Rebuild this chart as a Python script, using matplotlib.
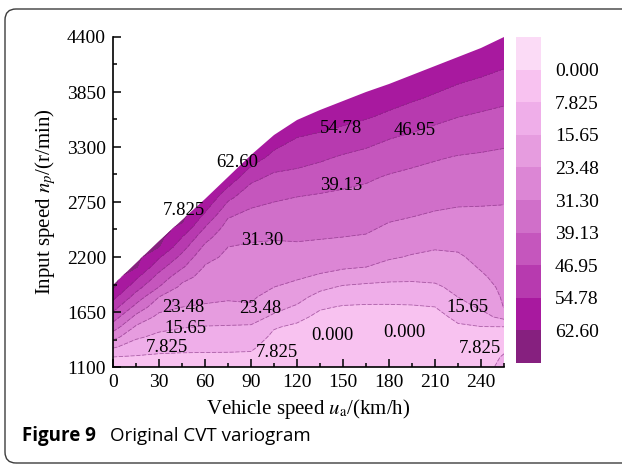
import matplotlib

matplotlib.use("Agg")

import matplotlib.pyplot as plt
import numpy as np
from matplotlib.colors import BoundaryNorm, ListedColormap
from matplotlib.patches import FancyBboxPatch, Polygon
from matplotlib.ticker import MultipleLocator
from matplotlib.transforms import IdentityTransform

plt.rcParams["font.family"] = "serif"
plt.rcParams["font.serif"] = ["Liberation Serif", "DejaVu Serif"]
plt.rcParams["mathtext.fontset"] = "stix"

# grid: vehicle speed (km/h) x input speed (r/min)
vehicle_speed = [0, 15, 30, 45, 60, 75, 90, 105, 120, 135, 150, 165, 180, 195, 210, 225, 240, 255]
input_speed = [1100, 1200, 1300, 1400, 1500, 1600, 1700, 1800, 1900, 2000, 2100, 2200, 2300,
               2400, 2500, 2600, 2800, 3000, 3200, 3400, 3600, 3800, 4000, 4200, 4400]

# upper edge of the coloured region (r/min) at each vehicle speed
speed_limit = [1920, 2140, 2360, 2570, 2780, 3000, 3220, 3420, 3570, 3670, 3760, 3850,
               3930, 4020, 4110, 4200, 4290, 4400]

# map values, one list per vehicle speed column, from 1100 r/min upwards
z_columns = [
    [3.0, 7.8, 16.6, 26.4, 35.2, 43.0, 50.2, 56.9, 63.8, 65, 65, 65, 65, 65, 65, 65, 65, 65, 65, 65, 65, 65, 65, 65, 65],
    [3.5, 7.2, 11.9, 16.8, 22.4, 29.2, 36.8, 43.7, 50.0, 56.2, 63.3, 65, 65, 65, 65, 65, 65, 65, 65, 65, 65, 65, 65, 65, 65],
    [4.0, 6.7, 10.1, 13.8, 17.6, 21.5, 26.1, 31.3, 39.1, 44.3, 49.7, 55.5, 62.6, 65, 65, 65, 65, 65, 65, 65, 65, 65, 65, 65, 65],
    [4.0, 6.6, 9.5, 12.7, 16.0, 19.8, 23.5, 26.5, 29.5, 33.9, 40.1, 45.0, 49.9, 54.8, 61.3, 64.5, 64.5, 64.5, 64.5, 64.5, 64.5, 64.5, 64.5, 64.5, 64.5],
    [4.0, 6.6, 9.3, 12.3, 15.3, 19.0, 22.7, 25.0, 26.9, 28.8, 30.7, 33.5, 37.5, 42.0, 47.0, 52.5, 62.0, 62, 62, 62, 62, 62, 62, 62, 62],
    [4.0, 6.5, 9.3, 12.2, 15.1, 18.5, 22.1, 24.3, 25.7, 27.1, 28.5, 29.9, 31.3, 33.5, 36.3, 39.5, 49.0, 60.5, 60.5, 60.5, 60.5, 60.5, 60.5, 60.5, 60.5],
    [4.0, 6.4, 9.0, 11.9, 14.8, 18.5, 22.7, 24.5, 25.7, 26.9, 28.1, 29.3, 30.6, 32.2, 34.5, 36.8, 42.1, 49.2, 59.5, 60.5, 60.5, 60.5, 60.5, 60.5, 60.5],
    [3.0, 3.8, 4.5, 6.2, 8.4, 14.4, 17.9, 20.7, 23.5, 25.1, 26.8, 28.5, 30.1, 31.9, 33.9, 35.9, 40.2, 45.4, 52.2, 59.7, 60.5, 60.5, 60.5, 60.5, 60.5],
    [3.0, 3.5, 4.2, 5.0, 6.5, 9.8, 14.7, 18.3, 21.5, 24.3, 26.3, 28.3, 30.3, 32.2, 33.9, 35.6, 39.1, 44.7, 50.0, 54.9, 60.5, 60.5, 60.5, 60.5, 60.5],
    [2.5, 2.8, 3.2, 3.8, 4.5, 6.0, 8.7, 13.0, 17.6, 22.5, 25.3, 27.5, 29.7, 31.8, 33.4, 35.1, 38.3, 43.0, 48.3, 53.5, 58.8, 60.5, 60.5, 60.5, 60.5],
    [2.0, 2.3, 2.8, 3.5, 4.5, 5.8, 7.3, 10.7, 14.8, 20.1, 24.4, 26.7, 29.0, 31.3, 32.9, 34.4, 37.6, 41.5, 46.2, 51.9, 57.0, 60.5, 60.5, 60.5, 60.5],
    [2.0, 2.3, 2.7, 3.3, 4.2, 5.5, 7.0, 10.2, 14.1, 18.6, 23.5, 25.9, 28.4, 30.8, 32.5, 34.0, 36.9, 40.2, 44.7, 49.9, 55.4, 59.5, 60.5, 60.5, 60.5],
    [2.0, 2.3, 2.7, 3.3, 4.2, 5.5, 7.0, 10.1, 13.8, 17.5, 21.2, 24.3, 26.3, 28.4, 30.5, 32.2, 35.4, 38.5, 42.8, 47.5, 53.3, 57.8, 60.5, 60.5, 60.5],
    [2.0, 2.3, 2.7, 3.3, 4.3, 5.6, 7.2, 10.3, 13.9, 17.1, 20.0, 22.9, 25.1, 27.2, 29.2, 31.3, 34.4, 37.4, 41.2, 45.8, 51.0, 56.0, 60.1, 60.5, 60.5],
    [2.0, 2.4, 2.9, 3.6, 4.6, 6.0, 7.8, 11.2, 14.6, 17.3, 19.6, 21.9, 24.1, 26.2, 28.2, 30.3, 33.6, 36.6, 39.8, 44.1, 48.8, 54.0, 58.2, 60.5, 60.5],
    [3.0, 3.8, 4.8, 5.9, 7.1, 9.1, 12.4, 15.7, 17.4, 19.1, 20.9, 22.6, 24.4, 26.2, 28.0, 29.7, 32.9, 35.9, 38.8, 42.8, 47.0, 51.8, 56.4, 60.5, 60.5],
    [5.5, 6.0, 6.5, 7.0, 7.6, 12.8, 16.8, 18.7, 20.6, 22.5, 24.1, 25.3, 26.4, 27.6, 28.8, 29.9, 32.5, 35.4, 38.3, 41.9, 45.8, 50.2, 54.8, 58.7, 60.5],
    [9.5, 8.2, 7.0, 7.0, 7.6, 18.0, 23.7, 24.4, 25.1, 25.9, 26.6, 27.3, 28.0, 28.8, 29.5, 30.2, 32.0, 34.9, 37.7, 41.0, 44.8, 48.7, 53.2, 57.0, 60.5],
]

# contour levels and their legend texts
levels = [-7.825, 0.0, 7.825, 15.65, 23.475, 31.3, 39.125, 46.95, 54.775, 62.6, 70.425]
level_labels = ["0.000", "7.825", "15.65", "23.48", "31.30", "39.13", "46.95", "54.78", "62.60"]

band_colors = ["#fbdbf6", "#f8c2f0", "#efaee9", "#e69cdf", "#dc86d5",
               "#d06fc9", "#c556bd", "#b73aaf", "#a8199f", "#86207f"]

# where the in-plot contour labels sit: (label index, km/h, r/min)
label_spots = [(8, 81, 3150), (1, 46, 2670), (4, 97, 2370), (5, 149, 2920),
               (7, 149, 3490), (6, 197, 3470), (3, 46, 1700), (3, 96, 1690),
               (2, 47, 1490), (1, 35, 1300), (1, 107, 1250), (0, 143, 1420),
               (0, 190, 1450), (2, 231, 1700), (1, 239, 1290)]

X, Y = np.meshgrid(vehicle_speed, input_speed)
Z = np.array(z_columns).T

cmap = ListedColormap(band_colors)
norm = BoundaryNorm(levels, cmap.N)

fig = plt.figure(figsize=(6.22, 4.65), dpi=100)
ax = fig.add_axes([113 / 622, 1 - 367 / 465, 391 / 622, 330 / 465])

cs = ax.contourf(X, Y, Z, levels=levels, cmap=cmap, norm=norm)
lines = ax.contour(X, Y, Z, levels=levels[1:-1], colors="#7d2c7a", linewidths=0.6,
                   linestyles=[(0, (5, 2))], alpha=0.6)

edge = [(vehicle_speed[0], input_speed[0])] + list(zip(vehicle_speed, speed_limit)) + \
       [(vehicle_speed[-1], input_speed[0])]
region = Polygon(edge, closed=True, transform=ax.transData, fill=False, lw=0)
ax.add_patch(region)
cs.set_clip_path(region)
lines.set_clip_path(region)

for idx, sx, sy in label_spots:
    ax.text(sx, sy, level_labels[idx], ha="center", va="center", fontsize=13.5, color="black")

ax.set_xlim(0, 255)
ax.set_ylim(1100, 4400)
ax.spines["top"].set_visible(False)
ax.spines["right"].set_visible(False)
for side in ("left", "bottom"):
    ax.spines[side].set_linewidth(1.2)
ax.xaxis.set_major_locator(MultipleLocator(30))
ax.xaxis.set_minor_locator(MultipleLocator(15))
ax.yaxis.set_major_locator(MultipleLocator(550))
ax.yaxis.set_minor_locator(MultipleLocator(275))
ax.tick_params(which="both", direction="in", top=False, right=False, labelsize=14, width=1.1)
ax.tick_params(which="major", length=6, pad=5)
ax.tick_params(which="minor", length=3)
ax.set_xticks([0, 30, 60, 90, 120, 150, 180, 210, 240])
ax.set_xlabel("Vehicle speed $u_\\mathrm{a}$/(km/h)", fontsize=15, labelpad=4)
ax.set_ylabel("Input speed $n_p$/(r/min)", fontsize=15, labelpad=6)

# colour legend, labels on the band edges
cax = fig.add_axes([516 / 622, 1 - 363 / 465, 25 / 622, 326 / 465])
cbar = fig.colorbar(cs, cax=cax)
cbar.outline.set_visible(False)
cax.invert_yaxis()
cbar.set_ticks(levels[1:-1], labels=level_labels)
cax.minorticks_off()
cax.tick_params(which="both", length=0, pad=10, labelsize=14)
for lbl in cax.get_yticklabels():
    lbl.set_family("Liberation Serif")

# caption and frame
cap_y = 1 - 436 / 465
fig.text(22 / 622, cap_y, "Figure 9", family="Open Sans", fontweight="bold",
         fontsize=13.5, va="center", ha="left")
fig.text(110 / 622, cap_y, "Original CVT variogram", family="Open Sans",
         fontsize=13.5, va="center", ha="left")
frame = FancyBboxPatch((5, 2), 640, 454, boxstyle="round,pad=0,rounding_size=11",
                       transform=IdentityTransform(), fill=False, ec="#3c3c3c", lw=1.0)
fig.add_artist(frame)

fig.savefig("out.png", dpi=100, facecolor="white")
plt.close(fig)
